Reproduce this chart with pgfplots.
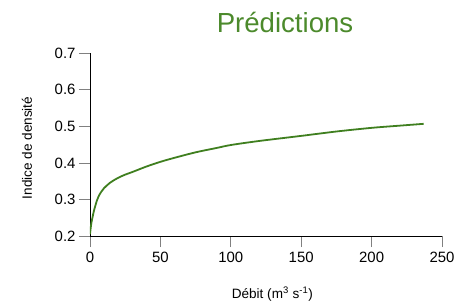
\documentclass[border=0pt]{standalone}
\usepackage{fontspec}
\setmainfont{Liberation Sans}
\usepackage{pgfplots}
\pgfplotsset{compat=1.18}
\definecolor{titlegreen}{HTML}{4C8A2C}
\definecolor{curvegreen}{HTML}{3F7F1F}
\begin{document}
\begin{tikzpicture}
\useasboundingbox (-90bp,-67bp) rectangle (366bp,236bp);
\begin{axis}[
  scale only axis,
  width=352bp, height=182.7bp,
  xmin=0, xmax=250, ymin=0.2, ymax=0.7,
  axis x line*=bottom, axis y line*=left,
  axis line style={black, line width=0.8pt},
  xtick={0,50,100,150,200,250},
  ytick={0.2,0.3,0.4,0.5,0.6,0.7},
  yticklabel style={/pgf/number format/fixed, /pgf/number format/fixed zerofill, /pgf/number format/precision=1},
  /pgf/number format/assume math mode=true,
  tick align=outside,
  major tick length=11bp,
  tick style={gray, line width=0.8pt},
  ticklabel style={font=\fontsize{15}{18}\selectfont},
  xticklabel style={yshift=-2bp},
  title={Prédictions},
  title style={at={(axis description cs:0.554,1)}, anchor=base, yshift=15bp,
    font=\fontsize{27.7}{32}\selectfont, text=titlegreen, inner sep=0pt},
  xlabel={Débit (m\textsuperscript{3} s\textsuperscript{-1})},
  xlabel style={at={(axis description cs:0.518,-0.317)}, anchor=center,
    font=\fontsize{13.6}{16}\selectfont},
  ylabel={Indice de densité},
  ylabel style={at={(axis description cs:-0.179,0.482)}, anchor=center,
    font=\fontsize{13.6}{16}\selectfont},
]
\addplot[curvegreen, line width=1.8pt, smooth] coordinates {
(0,0.205) (0.5,0.222) (1,0.236) (2,0.255) (3,0.272) (5,0.298) (7,0.315)
(10,0.331) (14,0.345) (18,0.355) (22,0.363) (25,0.368) (30,0.375)
(40,0.390) (50,0.403) (60,0.414) (75,0.429) (90,0.441) (100,0.449)
(120,0.460) (150,0.474) (175,0.486) (200,0.496) (220,0.502) (237,0.507)
};
\end{axis}
\end{tikzpicture}
\end{document}
